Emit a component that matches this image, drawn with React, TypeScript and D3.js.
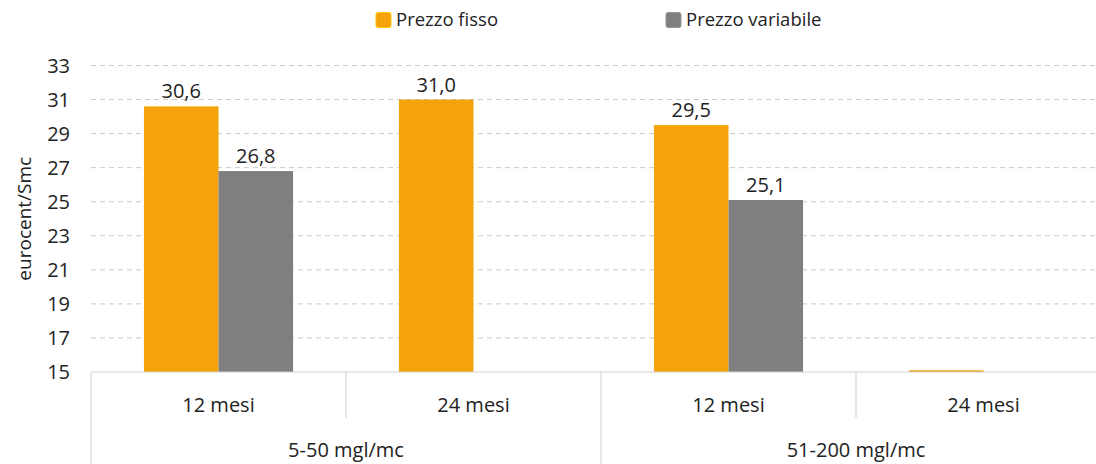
import React from "react";
import * as d3 from "d3";

const groups = ["5-50 mgl/mc", "51-200 mgl/mc"];
const durations = ["12 mesi", "24 mesi"];
const seriesNames = ["Prezzo fisso", "Prezzo variabile"];
const seriesColors = ["#F4A40A", "#7F7F7F"];
// one value per (group, duration) cell, in order
const prezzoFisso: (number | null)[] = [30.6, 31.0, 29.5, 15.1];
const prezzoVariabile: (number | null)[] = [26.8, null, 25.1, null];
const showLabel = [
  [true, true, true, false],
  [true, true, true, true],
];
const yTicks = [15, 17, 19, 21, 23, 25, 27, 29, 31, 33];

const W = 1096;
const H = 464;
const FONT = "'Segoe UI', 'Open Sans', sans-serif";

export default function App() {
  const margin = { left: 91, top: 65.5, bottom: 372 };
  // plot area is wider than the picture: the last category is cut at the right edge
  const plotRight = 1111;

  const cells = groups.flatMap((g) => durations.map((d) => `${g}|${d}`));
  const series = [prezzoFisso, prezzoVariabile];

  const x0 = d3.scaleBand<string>().domain(cells).range([margin.left, plotRight]).padding(0);
  const x1 = d3
    .scaleBand<string>()
    .domain(seriesNames)
    .range([0, x0.bandwidth()])
    .paddingInner(0)
    .paddingOuter(0.71);
  const y = d3.scaleLinear().domain([15, 33]).range([margin.bottom, margin.top]);

  const fmt = (v: number) => v.toFixed(1).replace(".", ",");
  const groupW = x0.bandwidth() * durations.length;

  return (
    <svg width={W} height={H} style={{ display: "block", position: "absolute", left: 0, top: 0 }} fontFamily={FONT}>
      <rect width={W} height={H} fill="#fff" />

      {/* legend */}
      {seriesNames.map((s, i) => {
        const lx = [376, 666][i];
        return (
          <g key={s}>
            <rect x={lx} y={12.5} width={15} height={15} rx={2} fill={seriesColors[i]} stroke={d3.color(seriesColors[i])!.brighter(0.5).toString()} strokeWidth={1} />
            <text x={lx + 20} y={20} dy="0.35em" fontSize={18.5} fill="#222">
              {s}
            </text>
          </g>
        );
      })}

      {/* grid */}
      {yTicks.slice(1).map((t) => (
        <line key={t} x1={margin.left} x2={plotRight} y1={y(t)} y2={y(t)} stroke="#c9c9c9" strokeDasharray="5 4" strokeWidth={1} />
      ))}

      {/* y ticks */}
      {yTicks.map((t) => (
        <text key={t} x={70} y={y(t)} dy="0.35em" textAnchor="end" fontSize={20} fill="#222">
          {t}
        </text>
      ))}

      <text transform={`translate(24,${(margin.top + margin.bottom) / 2}) rotate(-90)`} textAnchor="middle" dy="0.35em" fontSize={19} fill="#222">
        eurocent/Smc
      </text>

      {/* bars */}
      {series.map((vals, si) =>
        vals.map((v, ci) => {
          if (v == null) return null;
          const bx = x0(cells[ci])! + x1(seriesNames[si])!;
          const bw = x1.bandwidth();
          return (
            <g key={`${si}-${ci}`}>
              <rect x={bx} y={y(v)} width={bw} height={y(15) - y(v)} fill={seriesColors[si]} />
              {showLabel[si][ci] && (
                <text x={bx + bw / 2} y={y(v) - 8} textAnchor="middle" fontSize={20} fill="#222">
                  {fmt(v)}
                </text>
              )}
            </g>
          );
        })
      )}

      {/* category axis */}
      <line x1={margin.left} x2={plotRight} y1={margin.bottom} y2={margin.bottom} stroke="#d0d0d0" />
      {cells.map((c, ci) => {
        const cx = x0(c)!;
        const isGroupStart = ci % durations.length === 0;
        return (
          <g key={c}>
            <line x1={cx} x2={cx} y1={margin.bottom} y2={isGroupStart ? H : 418} stroke="#d0d0d0" />
            <text x={cx + x0.bandwidth() / 2} y={405} dy="0.35em" textAnchor="middle" fontSize={20} fill="#222">
              {c.split("|")[1]}
            </text>
          </g>
        );
      })}
      {groups.map((g, gi) => (
        <text key={g} x={margin.left + gi * groupW + groupW / 2} y={450} dy="0.35em" textAnchor="middle" fontSize={20} fill="#222">
          {g}
        </text>
      ))}
    </svg>
  );
}
